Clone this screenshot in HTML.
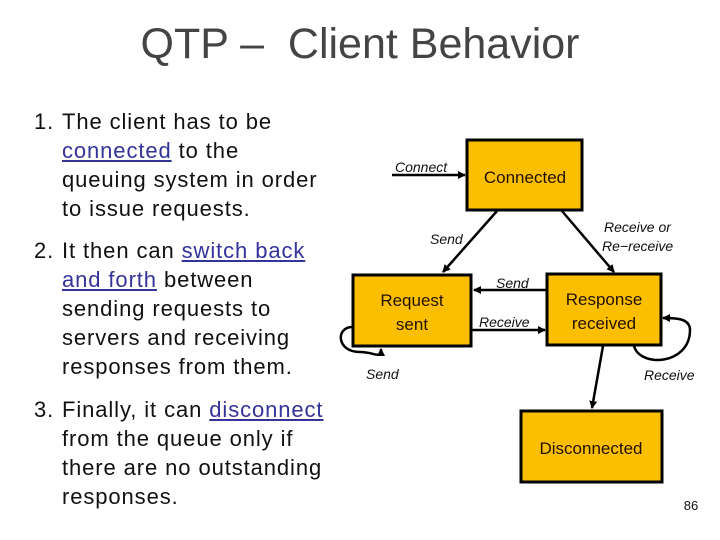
<!DOCTYPE html>
<html><head><meta charset="utf-8"><style>
body{margin:0;width:720px;height:540px;background:#fff;position:relative;overflow:hidden;font-family:"Liberation Sans",sans-serif}
.t{position:absolute;left:0;width:720px;top:20px;text-align:center;font-size:43px;color:#444;}
.l{position:absolute;left:34px;font-size:22px;letter-spacing:0.9px;line-height:29px;color:#111;white-space:nowrap}
.l span.n{position:absolute;left:0}
.l div{padding-left:28px}
a{color:#333399;text-decoration:underline}
</style></head><body>
<div class="t">QTP –&nbsp; Client Behavior</div>
<div class="l" style="top:107px"><span class="n">1.</span><div>The client has to be<br><a>connected</a> to the<br>queuing system in order<br>to issue requests.</div></div>
<div class="l" style="top:236px"><span class="n">2.</span><div>It then can <a>switch back<br>and forth</a> between<br>sending requests to<br>servers and receiving<br>responses from them.</div></div>
<div class="l" style="top:395px"><span class="n">3.</span><div>Finally, it can <a>disconnect</a><br>from the queue only if<br>there are no outstanding<br>responses.</div></div>
<svg width="720" height="540" style="position:absolute;left:0;top:0" font-family="Liberation Sans,sans-serif">
<defs><marker id="a" markerWidth="8" markerHeight="8" refX="7" refY="4" orient="auto" markerUnits="userSpaceOnUse"><path d="M0,0L8,4L0,8z" fill="#000"/></marker></defs>
<g fill="#fbbf00" stroke="#000" stroke-width="3">
<rect x="467" y="140" width="115" height="70"/>
<rect x="353" y="275" width="118" height="71"/>
<rect x="547" y="274" width="114" height="71"/>
<rect x="521" y="411" width="141" height="71"/>
</g>
<g stroke="#000" stroke-width="2.5" fill="none" marker-end="url(#a)">
<line x1="392" y1="175" x2="465" y2="175"/>
<line x1="497" y1="211" x2="443" y2="272"/>
<line x1="562" y1="211" x2="614" y2="272"/>
<line x1="546" y1="290" x2="474" y2="290"/>
<line x1="471" y1="330" x2="545" y2="330"/>
<line x1="603" y1="346" x2="592" y2="408"/>
<path d="M352,327 C336,327 336,352 360,352 C375,352 381,360 381,349"/>
<path d="M634,346 C640,368 690,365 690,330 C690,318 675,318 663,318"/>
</g>
<g font-style="italic" font-size="14" fill="#111">
<text x="395" y="172">Connect</text>
<text x="430" y="244">Send</text>
<text x="604" y="232">Receive or</text>
<text x="602" y="251">Re−receive</text>
<text x="496" y="288">Send</text>
<text x="479" y="327">Receive</text>
<text x="366" y="379">Send</text>
<text x="644" y="380">Receive</text>
</g>
<g font-size="17" fill="#221100" text-anchor="middle">
<text x="525" y="183">Connected</text>
<text x="412" y="306">Request</text>
<text x="412" y="330">sent</text>
<text x="604" y="305">Response</text>
<text x="604" y="329">received</text>
<text x="591" y="454">Disconnected</text>
</g>
<text x="691" y="510" font-size="13" text-anchor="middle" fill="#111">86</text>
</svg>
</body></html>
